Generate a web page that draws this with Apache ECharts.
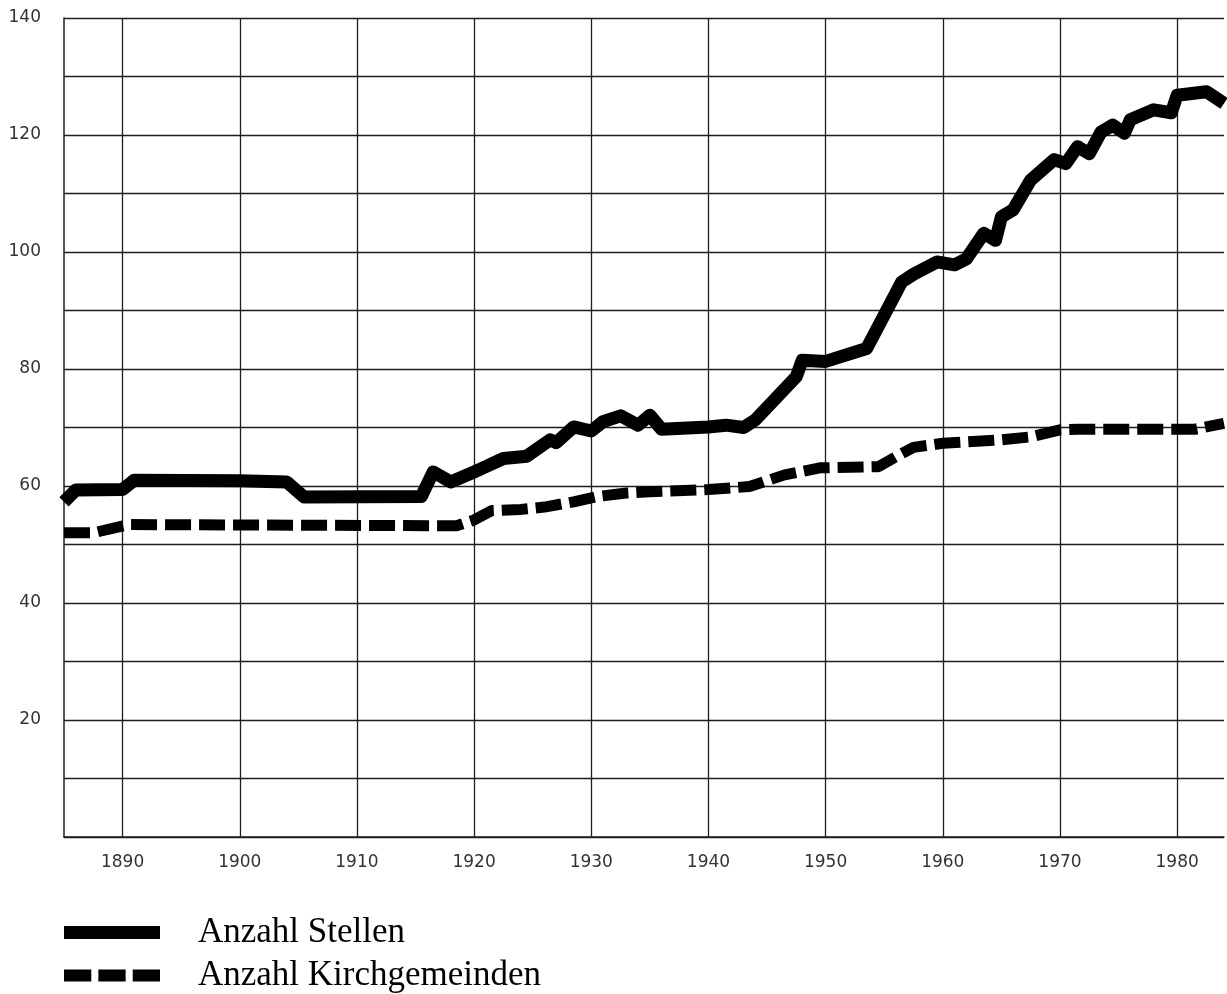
<!DOCTYPE html>
<html>
<head>
<meta charset="utf-8">
<title>Anzahl Stellen / Kirchgemeinden</title>
<script src="https://cdn.jsdelivr.net/npm/echarts@6/dist/echarts.min.js"></script>
<style>
  html, body { margin: 0; padding: 0; background: #fff; }
  #chart { width: 1227px; height: 994px; }
</style>
</head>
<body>
<div id="chart"></div>
<script>
// Anzahl Stellen (durchgezogene Linie)
var stellenJahre = [1885, 1886, 1890, 1891, 1900, 1904, 1905.5, 1915.5, 1916.5, 1918, 1920, 1921, 1922.5, 1924.5,
  1926.5, 1927, 1928.5, 1930, 1931, 1932.5, 1934, 1935, 1936, 1940, 1941.5, 1943, 1944, 1947.5, 1948, 1950,
  1953.5, 1956.5, 1957.5, 1959.5, 1961, 1962, 1963.5, 1964.5, 1965, 1966, 1967.5, 1969.5, 1970.5, 1971.5,
  1972.5, 1973.5, 1974.5, 1975.5, 1976, 1978, 1979.5, 1980, 1982.5, 1984];
var stellenWerte = [57.3, 59.3, 59.4, 61.0, 60.9, 60.7, 58.1, 58.2, 62.4, 60.7, 62.4, 63.3, 64.7, 65.1,
  67.9, 67.4, 70.1, 69.4, 71.0, 72.0, 70.4, 72.1, 69.7, 70.1, 70.4, 70.0, 71.3, 78.7, 81.5, 81.3,
  83.5, 94.9, 96.2, 98.3, 97.8, 98.8, 103.2, 102.0, 106.0, 107.2, 112.3, 115.8, 115.1, 118.0,
  116.8, 120.5, 121.7, 120.3, 122.6, 124.3, 123.8, 126.8, 127.4, 125.4];

// Anzahl Kirchgemeinden (gestrichelte Linie)
var gemeindenJahre = [1885, 1887.5, 1890.5, 1918.5, 1920, 1921.5, 1924, 1926, 1928.5, 1930.5, 1933, 1935,
  1940, 1943.5, 1946.5, 1949.5, 1954.5, 1956, 1957.5, 1960, 1965, 1967.5, 1970, 1971.5, 1981.5, 1984];
var gemeindenWerte = [52.0, 52.0, 53.4, 53.2, 54.2, 55.8, 56.0, 56.4, 57.3, 58.2, 58.8, 59.0,
  59.4, 59.9, 61.9, 63.1, 63.3, 65.0, 66.6, 67.3, 67.9, 68.4, 69.6, 69.7, 69.7, 70.7];

var serienNamen = ['Anzahl Stellen', 'Anzahl Kirchgemeinden'];

function paare(jahre, werte) {
  var out = [];
  for (var i = 0; i < jahre.length; i++) out.push([jahre[i], werte[i]]);
  return out;
}

var myChart = echarts.init(document.getElementById('chart'), null, { renderer: 'canvas' });
var gridColor = '#1e1e1e';

var option = {
  backgroundColor: '#fff',
  animation: false,
  grid: { left: 64, top: 18, right: 0, bottom: 157, containLabel: false },
  legend: {
    orient: 'vertical',
    left: 64,
    top: 915,
    padding: 0,
    itemGap: 8,
    itemWidth: 96,
    itemHeight: 13,
    textStyle: {
      fontFamily: 'Liberation Serif',
      fontSize: 35,
      color: '#000',
      padding: [0, 0, 0, 33]
    },
    data: [
      { name: serienNamen[0], icon: 'rect' },
      { name: serienNamen[1], icon: 'path://M0,0H27V12H0Z M34,0H61V12H34Z M68,0H95V12H68Z' }
    ]
  },
  xAxis: {
    type: 'value',
    min: 1885,
    max: 1984,
    interval: 5,
    axisLine: { show: true, lineStyle: { color: gridColor, width: 1.5 } },
    axisTick: { show: false },
    axisLabel: {
      margin: 17,
      fontFamily: 'DejaVu Sans',
      fontSize: 17,
      color: '#333',
      formatter: function (v) { return (v % 10 === 0) ? String(v) : ''; }
    },
    splitLine: { show: true, lineStyle: { color: ['transparent', gridColor], width: 1.3 } }
  },
  yAxis: {
    type: 'value',
    min: 0,
    max: 140,
    interval: 10,
    axisLine: { show: true, lineStyle: { color: gridColor, width: 1.5 } },
    axisTick: { show: false },
    axisLabel: {
      margin: 23,
      fontFamily: 'DejaVu Sans',
      fontSize: 17,
      color: '#333',
      formatter: function (v) { return (v > 0 && v % 20 === 0) ? String(v) : ''; }
    },
    splitLine: { show: true, lineStyle: { color: gridColor, width: 1.3 } }
  },
  series: [
    {
      name: serienNamen[0],
      type: 'line',
      symbol: 'none',
      lineStyle: { color: '#000', width: 13, join: 'round' },
      itemStyle: { color: '#000' },
      data: paare(stellenJahre, stellenWerte)
    },
    {
      name: serienNamen[1],
      type: 'line',
      symbol: 'none',
      lineStyle: { color: '#000', width: 11, type: [26, 8], cap: 'butt' },
      itemStyle: { color: '#000' },
      data: paare(gemeindenJahre, gemeindenWerte)
    }
  ]
};
myChart.setOption(option);
</script>
</body>
</html>
